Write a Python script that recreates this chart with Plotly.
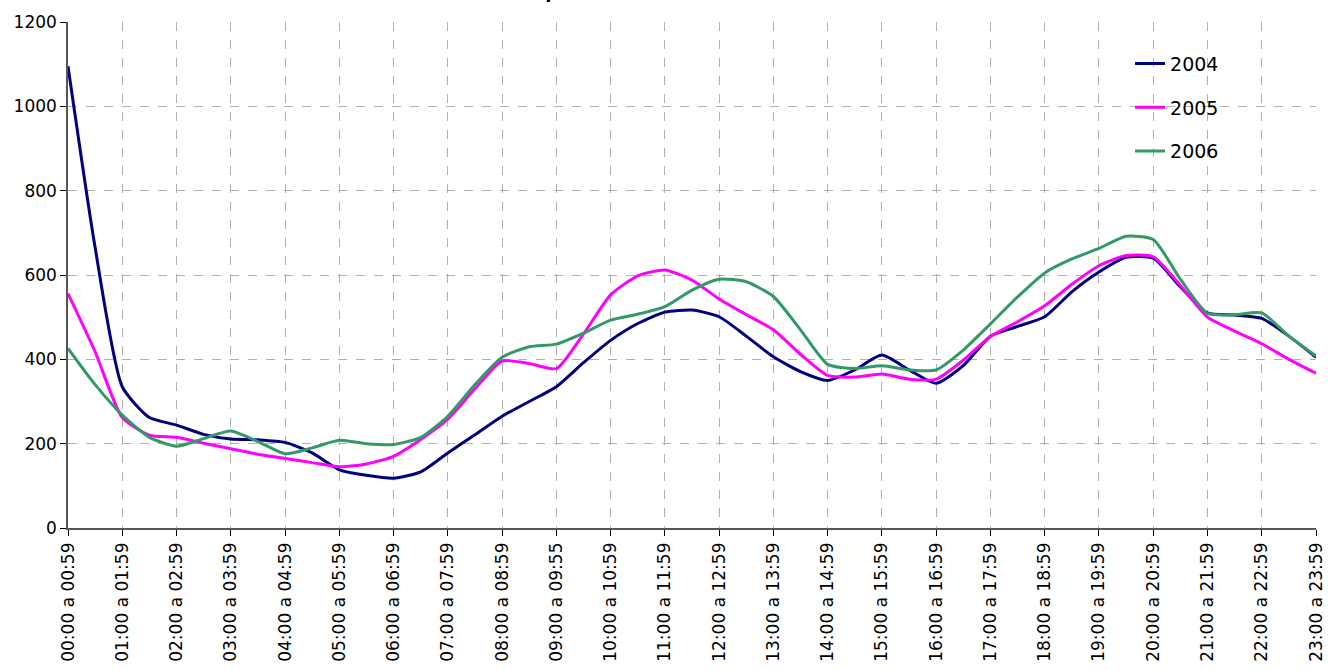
import plotly.graph_objects as go

hour_labels = [f"{h:02d}:00 a {h:02d}:59" for h in range(24)]
hour_labels[9] = "09:00 a 09:55"

# half-hour sample positions (0 = first hour band tick, 23 = last)
x_pos = [i * 0.5 for i in range(47)]

y2004 = [1095, 665, 335, 262, 244, 222, 211, 209, 203, 178, 138, 125, 118, 133, 178, 221,
         265, 300, 335, 392, 445, 485, 512, 517, 501, 455, 406, 371, 350, 375, 410, 375,
         343, 385, 455, 478, 501, 560, 607, 642, 640, 572, 510, 505, 497, 455, 405]
y2005 = [556, 418, 262, 220, 215, 201, 188, 175, 165, 155, 145, 152, 170, 210, 258, 330,
         396, 390, 378, 460, 553, 598, 612, 588, 543, 506, 470, 412, 362, 358, 365, 353,
         353, 398, 454, 489, 527, 578, 622, 646, 643, 575, 500, 467, 437, 400, 367]
y2006 = [426, 340, 268, 215, 194, 212, 230, 205, 176, 190, 208, 200, 198, 215, 265, 340,
         405, 430, 436, 462, 493, 507, 525, 564, 590, 584, 549, 470, 388, 378, 385, 375,
         375, 422, 484, 548, 605, 638, 663, 692, 684, 590, 509, 506, 510, 455, 408]

series = [("2004", y2004, "#000080"), ("2005", y2005, "#FF00FF"), ("2006", y2006, "#339966")]

fig = go.Figure()
for name, ys, col in series:
    fig.add_trace(go.Scatter(x=x_pos, y=ys, name=name, mode="lines", legendgroup=name,
                             line=dict(color=col, width=3, shape="spline", smoothing=0.6)))

font = "DejaVu Sans, Verdana, sans-serif"
fig.update_layout(
    width=1328, height=670,
    margin=dict(l=68, r=12, t=22, b=142, autoexpand=False),
    paper_bgcolor="white", plot_bgcolor="white",
    font=dict(family=font, size=17, color="black"),
    showlegend=True,
    legend=dict(x=0.851, y=0.955, xanchor="left", yanchor="top", bgcolor="rgba(0,0,0,0)",
                font=dict(size=19), tracegroupgap=16),
    xaxis=dict(range=[0, 23], tickmode="array", tickvals=list(range(24)), ticktext=hour_labels,
               tickangle=-90, ticks="outside", ticklen=6, tickcolor="black", automargin=False,
               tickfont=dict(size=17),
               showline=True, linecolor="#555", linewidth=1.5,
               showgrid=True, gridcolor="#b0b0b0", griddash="dash", gridwidth=1, zeroline=False),
    yaxis=dict(range=[0, 1200], tickvals=[0, 200, 400, 600, 800, 1000, 1200], automargin=False,
               ticks="outside", ticklen=6, tickcolor="black", tickfont=dict(size=17),
               showline=True, linecolor="#555", linewidth=1.5,
               showgrid=True, gridcolor="#b0b0b0", griddash="dash", gridwidth=1, zeroline=False),
    annotations=[dict(text="<b>Comparativo horário 2004 - 2005 - 2006</b>", xref="paper", yref="paper",
                      x=0.51, y=1.0, yshift=18, xanchor="center", yanchor="bottom", showarrow=False,
                      font=dict(size=18, family=font))],
)
fig.write_html("out.html", config={"displayModeBar": False},
               post_script="document.body.style.margin='0';document.body.style.overflow='hidden';")
